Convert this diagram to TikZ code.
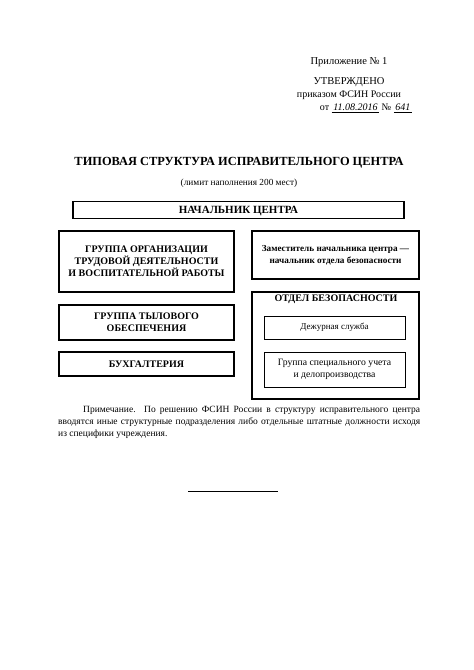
\documentclass[tikz,border=0pt]{standalone}
\usepackage{fontspec}
\setmainfont{Liberation Serif}
\begin{document}
\begin{tikzpicture}[x=1pt,y=-1pt,
  box/.style={draw,line width=1.3pt,inner sep=0pt,align=center},
  ibox/.style={draw,line width=0.9pt,inner sep=0pt,align=center},
  bt/.style={font=\fontsize{10}{12}\selectfont\bfseries}]
\useasboundingbox[fill=white] (0,0) rectangle (474,670);
% header block
\node (pril) at (349,62) {\fontsize{10.5}{12}\selectfont Приложение № 1};
\node (utv) at (349,82) {\fontsize{10.5}{12}\selectfont УТВЕРЖДЕНО};
\node (prik) at (349,95) {\fontsize{10}{12}\selectfont приказом ФСИН России};
\node (ot) at (366,108) {\fontsize{10}{12}\selectfont от \underline{\itshape\,11.08.2016\,} № \underline{\itshape\,641\,}};
% title
\node (title) at (239,163) {\fontsize{12.4}{14}\selectfont\bfseries ТИПОВАЯ СТРУКТУРА ИСПРАВИТЕЛЬНОГО ЦЕНТРА};
\node (lim) at (239,183) {\fontsize{9.3}{11}\selectfont (лимит наполнения 200 мест)};
% boxes
\node[box,minimum width=331,minimum height=17] (head) at (238.5,210) {};
\node[font=\fontsize{11}{13}\selectfont\bfseries] (headt) at (238.5,211.5) {НАЧАЛЬНИК ЦЕНТРА};
\node[box,minimum width=175,minimum height=61,bt] (g1) at (146.5,261.5) {ГРУППА ОРГАНИЗАЦИИ\\ТРУДОВОЙ ДЕЯТЕЛЬНОСТИ\\И ВОСПИТАТЕЛЬНОЙ РАБОТЫ};
\node[box,minimum width=167,minimum height=48,font=\fontsize{9.2}{11.5}\selectfont\bfseries] (zam) at (335.5,255) {Заместитель начальника центра ---\\начальник отдела безопасности};
\node[box,minimum width=175,minimum height=35,bt] (g2) at (146.5,322.5) {ГРУППА ТЫЛОВОГО\\ОБЕСПЕЧЕНИЯ};
\node[box,minimum width=175,minimum height=24,bt] (g3) at (146.5,364) {БУХГАЛТЕРИЯ};
\node[box,minimum width=167,minimum height=107] (otd) at (335.5,345.5) {};
\node[font=\fontsize{10}{12}\selectfont\bfseries] (otdt) at (336,299.5) {ОТДЕЛ БЕЗОПАСНОСТИ};
\node[ibox,minimum width=141,minimum height=23,font=\fontsize{9}{11}\selectfont] (d1) at (334.5,327.5) {Дежурная служба};
\node[ibox,minimum width=141,minimum height=35,font=\fontsize{9.7}{12}\selectfont] (d2) at (334.5,369.5) {Группа специального учета\\и делопроизводства};
% note
\node[anchor=north west,inner sep=0pt,text width=362,align=justify,font=\fontsize{9.5}{12}\selectfont] (note) at (58,406) {\hspace*{25pt}Примечание. По решению ФСИН России в структуру исправительного центра вводятся иные структурные подразделения либо отдельные штатные должности исходя из специфики учреждения.};
% rule
\coordinate (ra) at (188,491);
\coordinate (rb) at (278,491);
\draw[line width=1pt] (ra) -- (rb);
\end{tikzpicture}
\end{document}
